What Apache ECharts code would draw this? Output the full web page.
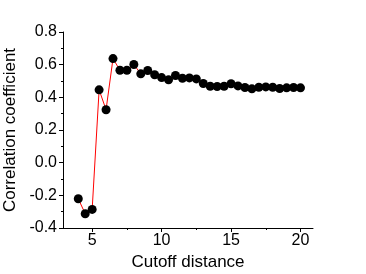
<!DOCTYPE html>
<html><head><meta charset="utf-8">
<script src="https://cdn.jsdelivr.net/npm/echarts@6/dist/echarts.min.js"></script>
<style>html,body{margin:0;padding:0;background:#fff}#c{width:366px;height:274px}</style>
</head><body><div id="c"></div>
<script>
const cutoff = [4,4.5,5,5.5,6,6.5,7,7.5,8,8.5,9,9.5,10,10.5,11,11.5,12,12.5,13,13.5,14,14.5,15,15.5,16,16.5,17,17.5,18,18.5,19,19.5,20];
const corr = [-0.221,-0.313,-0.286,0.446,0.324,0.637,0.566,0.566,0.601,0.544,0.564,0.538,0.521,0.507,0.534,0.517,0.519,0.513,0.485,0.468,0.466,0.468,0.483,0.470,0.460,0.452,0.462,0.464,0.462,0.454,0.458,0.460,0.458];
const xTicks = [5,10,15,20];
const xMinorTicks = [7.5,12.5,17.5];
const xName = 'Cutoff distance';
const yName = 'Correlation coefficient';
const pts = cutoff.map((x,i)=>[x,corr[i]]);
const font = 'Liberation Sans, Arial, sans-serif';
const chart = echarts.init(document.getElementById('c'), null, {renderer:'canvas'});
chart.setOption({
  animation:false,
  grid:{left:63,right:53,top:32,bottom:46,containLabel:false,outerBoundsMode:'none'},
  xAxis:[{type:'value',min:2.9,max:20.9,
    axisLine:{show:true,onZero:false,lineStyle:{color:'#000',width:1}},
    axisTick:{show:true,inside:false,length:4,lineStyle:{color:'#000'},customValues:xTicks},
    axisLabel:{color:'#000',fontSize:16,fontFamily:font,margin:5,customValues:xTicks},
    splitLine:{show:false},
    name:xName,nameLocation:'middle',nameGap:26,
    nameTextStyle:{color:'#000',fontSize:17,fontFamily:font}},
   {type:'value',min:2.9,max:20.9,position:'bottom',
    axisLine:{show:false,onZero:false},
    axisTick:{show:true,inside:false,length:2,lineStyle:{color:'#000'},customValues:xMinorTicks},
    axisLabel:{show:false},splitLine:{show:false}}],
  yAxis:{type:'value',min:-0.4,max:0.8,interval:0.2,
    axisLine:{show:true,onZero:false,lineStyle:{color:'#000',width:1}},
    axisTick:{show:true,inside:false,length:4,lineStyle:{color:'#000'}},
    minorTick:{show:true,splitNumber:2,length:2,lineStyle:{color:'#000'}},
    axisLabel:{color:'#000',fontSize:16,fontFamily:font,margin:6,formatter:v=>v.toFixed(1)},
    splitLine:{show:false},
    name:yName,nameLocation:'middle',nameGap:38,
    nameTextStyle:{color:'#000',fontSize:17,fontFamily:font}},
  series:[{type:'line',data:pts,symbol:'circle',symbolSize:9,
    lineStyle:{color:'#ff0000',width:1},
    itemStyle:{color:'#000',borderWidth:0},z:3}]
});
</script></body></html>
